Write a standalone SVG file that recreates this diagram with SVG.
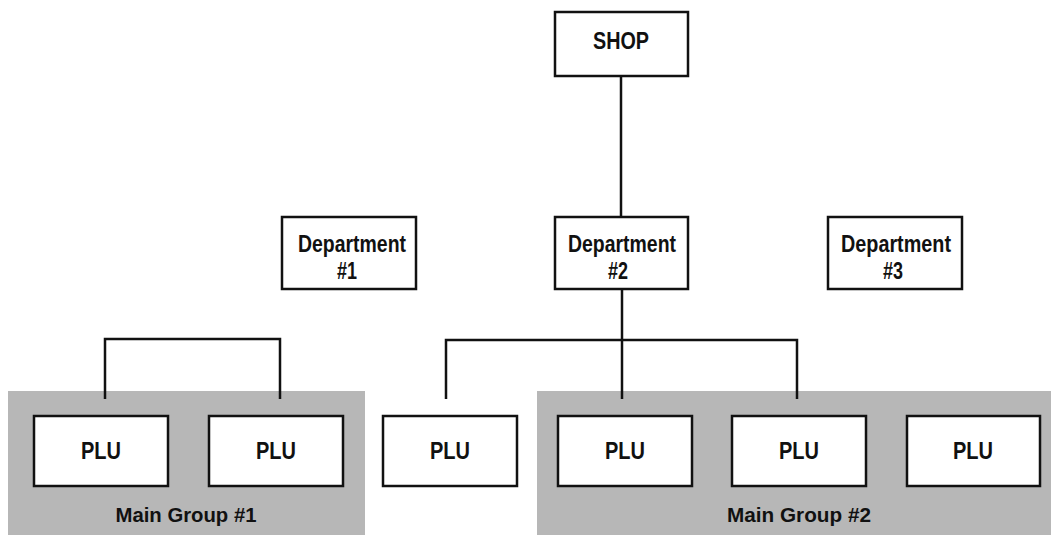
<svg xmlns="http://www.w3.org/2000/svg" width="1051" height="535" viewBox="0 0 1051 535">
<style>
.box{fill:#fff;stroke:#111;stroke-width:2.5}
.grp{fill:#b7b7b7;stroke:none}
.t{font-family:"Liberation Sans",Arial,sans-serif;font-weight:bold;font-size:23px;fill:#111;text-anchor:middle}
.g{font-size:21px}
.c{fill:none;stroke:#111;stroke-width:2.5}
</style>
<rect width="1051" height="535" fill="#fff"/>
<g id="group1"><rect class="grp" x="8" y="391" width="357" height="144"/><text class="t g" x="186" y="522" textLength="141" lengthAdjust="spacingAndGlyphs">Main Group #1</text></g>
<g id="group2"><rect class="grp" x="537" y="391" width="514" height="144"/><text class="t g" x="799" y="522" textLength="144" lengthAdjust="spacingAndGlyphs">Main Group #2</text></g>
<g id="connectors">
<path class="c" d="M621 76V217"/>
<path class="c" d="M622 289V399"/>
<path class="c" d="M446 399V340H797V399"/>
<path class="c" d="M105 399V339H280V399"/>
</g>
<g id="shop"><rect class="box" x="555" y="12" width="133" height="64"/><text class="t" x="621" y="49" textLength="56" lengthAdjust="spacingAndGlyphs">SHOP</text></g>
<g id="dept1"><rect class="box" x="282" y="217" width="134" height="72"/><text class="t" x="352" y="252" textLength="108" lengthAdjust="spacingAndGlyphs">Department</text><text class="t" x="347" y="279" textLength="20" lengthAdjust="spacingAndGlyphs">#1</text></g>
<g id="dept2"><rect class="box" x="555" y="217" width="133" height="72"/><text class="t" x="622" y="252" textLength="108" lengthAdjust="spacingAndGlyphs">Department</text><text class="t" x="618" y="279" textLength="20" lengthAdjust="spacingAndGlyphs">#2</text></g>
<g id="dept3"><rect class="box" x="828" y="217" width="134" height="72"/><text class="t" x="896" y="252" textLength="110" lengthAdjust="spacingAndGlyphs">Department</text><text class="t" x="893" y="279" textLength="20" lengthAdjust="spacingAndGlyphs">#3</text></g>
<g id="plu1"><rect class="box" x="34" y="416" width="134" height="70"/><text class="t" x="101" y="459" textLength="40" lengthAdjust="spacingAndGlyphs">PLU</text></g>
<g id="plu2"><rect class="box" x="209" y="416" width="134" height="70"/><text class="t" x="276" y="459" textLength="40" lengthAdjust="spacingAndGlyphs">PLU</text></g>
<g id="plu3"><rect class="box" x="383" y="416" width="134" height="70"/><text class="t" x="450" y="459" textLength="40" lengthAdjust="spacingAndGlyphs">PLU</text></g>
<g id="plu4"><rect class="box" x="558" y="416" width="134" height="70"/><text class="t" x="625" y="459" textLength="40" lengthAdjust="spacingAndGlyphs">PLU</text></g>
<g id="plu5"><rect class="box" x="732" y="416" width="134" height="70"/><text class="t" x="799" y="459" textLength="40" lengthAdjust="spacingAndGlyphs">PLU</text></g>
<g id="plu6"><rect class="box" x="907" y="416" width="133" height="70"/><text class="t" x="973" y="459" textLength="40" lengthAdjust="spacingAndGlyphs">PLU</text></g>
</svg>
